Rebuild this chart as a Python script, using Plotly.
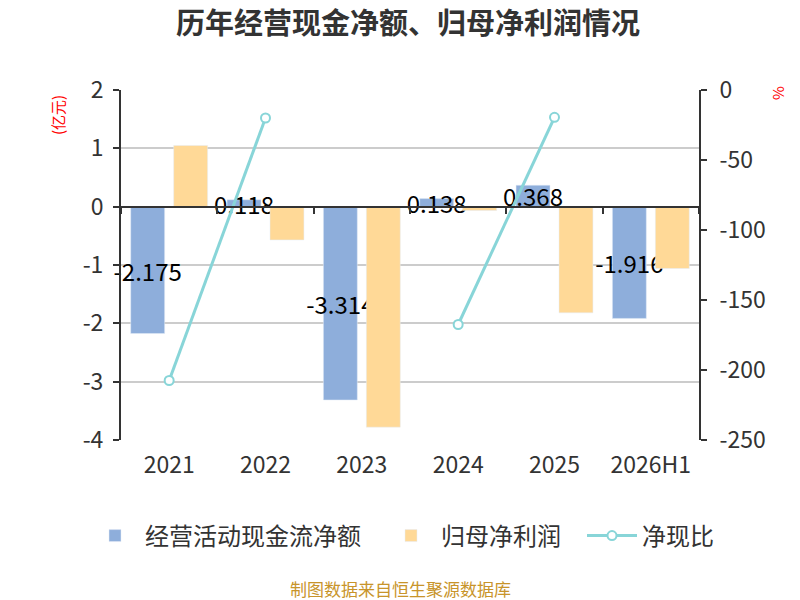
import plotly.graph_objects as go

YEARS = ["2021", "2022", "2023", "2024", "2025", "2026H1"]
CASH_FLOW = [-2.175, 0.118, -3.314, 0.138, 0.368, -1.916]        # 经营活动现金流净额 (亿元)
NET_PROFIT = [1.05, -0.57, -3.78, -0.065, -1.82, -1.06]          # 归母净利润 (亿元)
CASH_RATIO = [-207.5, -20.0, None, -167.5, -19.5, None]          # 净现比 (%)
CASH_LABELS = [f"{v:.3f}" for v in CASH_FLOW]

LEFT_TICKS = [2, 1, 0, -1, -2, -3, -4]
RIGHT_TICKS = [0, -50, -100, -150, -200, -250]

FONT = "Noto Sans CJK SC"
# latin primary font keeps the title's text box tight; the CJK glyphs fall back to Noto CJK
TITLE_FONT = "Liberation Sans, Noto Sans CJK SC"
COLOR_CASH = "#8eaedb"
COLOR_PROFIT = "#ffd997"
COLOR_RATIO = "#88d5d8"
AXIS_COLOR = "#333333"

# page body adds an 8px offset; margins are set so the plot lands where the reference has it
OFF = 8
W, H = 800, 600
M_L, M_T, M_R, M_B = 121 - OFF, 90 - OFF, 101 + OFF, 160 + OFF
PLOT_W = W - M_L - M_R
PLOT_H = H - M_T - M_B


def px_x(x):
    """screen x pixel -> paper x"""
    return (x - OFF - M_L) / PLOT_W


def px_y(y):
    """screen y pixel -> paper y"""
    return (H - M_B - (y - OFF)) / PLOT_H


def legend_at(x_left):
    # one legend per series so the row is not wrapped and each entry sits where the reference has it
    return dict(orientation="h", xref="container", x=(x_left - OFF) / W, xanchor="left",
                y=px_y(536), yanchor="middle", bgcolor="rgba(0,0,0,0)",
                font=dict(size=24, color=AXIS_COLOR), itemwidth=50)


fig = go.Figure()

fig.add_trace(go.Bar(
    x=YEARS, y=CASH_FLOW, name="经营活动现金流净额", legend="legend",
    marker=dict(color=COLOR_CASH),
    text=CASH_LABELS, textposition="inside", insidetextanchor="middle",
    constraintext="none", textangle=0, cliponaxis=False,
    textfont=dict(color="#000000", size=24, family=FONT),
))
fig.add_trace(go.Bar(
    x=YEARS, y=NET_PROFIT, name="归母净利润", legend="legend2",
    marker=dict(color=COLOR_PROFIT),
))
fig.add_trace(go.Scatter(
    x=YEARS, y=CASH_RATIO, name="净现比", yaxis="y2", legend="legend3",
    mode="lines+markers", connectgaps=False,
    line=dict(color=COLOR_RATIO, width=3),
    marker=dict(symbol="circle", size=9, color="#ffffff",
                line=dict(color=COLOR_RATIO, width=2)),
))
# invisible trace so the zero-line category axis gets drawn
fig.add_trace(go.Scatter(
    x=YEARS, y=[None] * len(YEARS), xaxis="x2", showlegend=False,
    hoverinfo="skip",
))

fig.update_layout(
    width=W, height=H,
    paper_bgcolor="#ffffff", plot_bgcolor="#ffffff",
    font=dict(family=FONT, color=AXIS_COLOR),
    margin=dict(l=M_L, r=M_R, t=M_T, b=M_B, autoexpand=False),
    title=dict(text="<b>历年经营现金净额、归母净利润情况</b>", x=0.5, xanchor="center",
               y=1 - (24 - OFF) / H, yanchor="middle",
               font=dict(size=29, color=AXIS_COLOR, family=TITLE_FONT)),
    barmode="group", bargap=0.108, bargroupgap=0.21,
    showlegend=True,
    legend=legend_at(85),
    legend2=legend_at(381),
    legend3=legend_at(582),
    xaxis=dict(
        type="category", categoryarray=YEARS, showline=False, showgrid=False,
        ticks="", tickfont=dict(size=23, color=AXIS_COLOR), zeroline=False,
        ticklabelstandoff=9,
    ),
    xaxis2=dict(
        type="category", categoryarray=YEARS, matches="x", overlaying="x",
        anchor="free", position=4 / 6, showline=True, linecolor=AXIS_COLOR,
        linewidth=2, ticks="outside", tickson="boundaries", ticklen=6,
        tickcolor=AXIS_COLOR, tickwidth=2, showticklabels=False, showgrid=False,
    ),
    yaxis=dict(
        range=[-4, 2], tickvals=LEFT_TICKS, ticktext=[str(v) for v in LEFT_TICKS],
        showline=True, linecolor=AXIS_COLOR, linewidth=2,
        ticks="outside", ticklen=6, tickcolor=AXIS_COLOR, tickwidth=2,
        showgrid=True, gridcolor="#cccccc", gridwidth=2, zeroline=False,
        tickfont=dict(size=23, color=AXIS_COLOR), ticklabelstandoff=5,
    ),
    yaxis2=dict(
        range=[-250, 0], tickvals=RIGHT_TICKS, ticktext=[str(v) for v in RIGHT_TICKS],
        overlaying="y", side="right",
        showline=True, linecolor=AXIS_COLOR, linewidth=2,
        ticks="outside", ticklen=6, tickcolor=AXIS_COLOR, tickwidth=2,
        showgrid=False, zeroline=False,
        tickfont=dict(size=23, color=AXIS_COLOR), ticklabelstandoff=8,
    ),
    annotations=[
        dict(text="(亿元)", x=px_x(58), y=px_y(115), xref="paper", yref="paper",
             xanchor="center", yanchor="middle", textangle=-90, showarrow=False,
             font=dict(size=15, color="#ff0000")),
        dict(text="%", x=px_x(777), y=px_y(93), xref="paper", yref="paper",
             xanchor="center", yanchor="middle", textangle=-90, showarrow=False,
             font=dict(size=15, color="#ff0000")),
        dict(text="制图数据来自恒生聚源数据库", x=px_x(400), y=px_y(588), xref="paper",
             yref="paper", xanchor="center", yanchor="middle", showarrow=False,
             font=dict(size=17, color="#c8942a")),
    ],
)

fig.write_html("out.html")
